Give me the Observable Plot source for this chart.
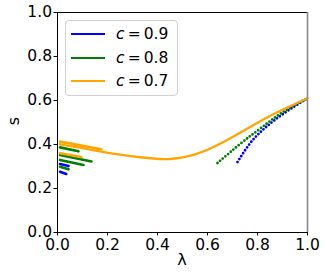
<!DOCTYPE html>
<html><head><meta charset="utf-8">
<script src="https://cdn.jsdelivr.net/npm/d3@7"></script>
<script src="https://cdn.jsdelivr.net/npm/@observablehq/plot@0.6"></script>
<style>
body{margin:0;background:#fff;}
#wrap{position:relative;width:327px;height:279px;font-family:"DejaVu Sans",sans-serif;color:#000;}
.legend{position:absolute;left:65px;top:20px;width:113px;height:76px;border:1px solid #d0d0d0;border-radius:4px;background:rgba(255,255,255,0.85);box-sizing:border-box;}
.row{position:absolute;left:0;height:20px;width:100%;}
.sw{position:absolute;left:5px;width:34px;height:2px;top:9px;}
.lt{position:absolute;left:50px;top:0;font-size:15.5px;line-height:20px;white-space:nowrap;}
.lt i{font-style:italic;}
.ylab{position:absolute;left:14px;top:121px;font-size:16px;line-height:1;transform:translate(-50%,-50%) rotate(-90deg);}
.xlab{position:absolute;left:182px;top:252px;font-size:16px;line-height:1;transform:translateX(-50%);}
</style></head>
<body><div id="wrap"></div>
<script>
const labels = ["c = 0.9", "c = 0.8", "c = 0.7"];
const colors = ["#0000ff", "#008000", "#ffa500"];
const xTicks = [0, 0.2, 0.4, 0.6, 0.8, 1.0];
const yTicks = [0, 0.2, 0.4, 0.6, 0.8, 1.0];

// c = 0.9 (blue)
const c09Lambda = [0.01, 0.044, 0.01, 0.035, 0.72, 0.77, 0.82, 0.87, 0.93, 1.0];
const c09S      = [0.311, 0.302, 0.276, 0.266, 0.32, 0.405, 0.465, 0.512, 0.56, 0.61];
const c09Seg    = ["a", "a", "b", "b", "r", "r", "r", "r", "r", "r"];

// c = 0.8 (green)
const c08Lambda = [0.01, 0.084, 0.01, 0.136, 0.01, 0.104, 0.01, 0.044, 0.64, 0.69, 0.75, 0.82, 0.9, 1.0];
const c08S      = [0.387, 0.369, 0.352, 0.323, 0.33, 0.307, 0.299, 0.287, 0.316, 0.364, 0.42, 0.48, 0.546, 0.61];
const c08Seg    = ["a", "a", "b", "b", "c", "c", "d", "d", "r", "r", "r", "r", "r", "r"];

// c = 0.7 (orange)
const c07Lambda = [0.01, 0.175, 0.01, 0.095,
  0.01, 0.1, 0.175, 0.251, 0.331, 0.41, 0.45, 0.5, 0.55, 0.6, 0.65, 0.7, 0.77, 0.85, 0.93, 1.0];
const c07S      = [0.413, 0.378, 0.36, 0.343,
  0.401, 0.383, 0.368, 0.354, 0.342, 0.334, 0.334, 0.341, 0.355, 0.376, 0.403, 0.434, 0.48, 0.53, 0.574, 0.61];
const c07Seg    = ["a", "a", "b", "b",
  "m", "m", "m", "m", "m", "m", "m", "m", "m", "m", "m", "m", "m", "m", "m", "m"];

const series = [
  {label: labels[0], lam: c09Lambda, s: c09S, seg: c09Seg},
  {label: labels[1], lam: c08Lambda, s: c08S, seg: c08Seg},
  {label: labels[2], lam: c07Lambda, s: c07S, seg: c07Seg}
];

const marks = [];
for (const sr of series) {
  const rows = sr.lam.map((x, i) => ({series: sr.label, x, s: sr.s[i], seg: sr.seg[i]}));
  const short = rows.filter(d => d.seg !== "r" && d.seg !== "m");
  const main = rows.filter(d => d.seg === "m");
  const dotted = rows.filter(d => d.seg === "r");
  marks.push(Plot.line(short, {x: "x", y: "s", z: "seg", stroke: "series", strokeWidth: 2.6}));
  if (main.length) marks.push(Plot.line(main, {x: "x", y: "s", stroke: "series", strokeWidth: 2.3, curve: "natural"}));
  if (dotted.length) marks.push(Plot.line(dotted, {x: "x", y: "s", stroke: "series", strokeWidth: 2.8,
    strokeLinecap: "round", strokeDasharray: "0,3.5", curve: "natural"}));
}

const chart = Plot.plot({
  width: 327, height: 279,
  marginLeft: 57, marginRight: 20, marginTop: 12, marginBottom: 47,
  style: {fontFamily: "DejaVu Sans", fontSize: "15.5px", color: "#000", background: "transparent"},
  x: {domain: [0, 1]},
  y: {domain: [0, 1]},
  color: {domain: labels, range: colors},
  marks: [
    ...marks,
    Plot.ruleY([0, 1], {stroke: "#000", strokeWidth: 1}),
    Plot.ruleX([0], {stroke: "#000", strokeWidth: 1}),
    Plot.ruleX([1], {stroke: "#888", strokeWidth: 1.6}),
    Plot.axisX({ticks: xTicks, tickFormat: d3.format(".1f"), tickSize: 3.5, tickPadding: 3, label: null}),
    Plot.axisY({ticks: yTicks, tickFormat: d3.format(".1f"), tickSize: 3.5, tickPadding: 2, label: null})
  ]
});
const wrap = document.getElementById("wrap");
wrap.appendChild(chart);

const leg = document.createElement("div");
leg.className = "legend";
labels.forEach((l, i) => {
  const row = document.createElement("div");
  row.className = "row";
  row.style.top = (3 + i * 23.5) + "px";
  const sw = document.createElement("div");
  sw.className = "sw"; sw.style.background = colors[i];
  const t = document.createElement("div");
  t.className = "lt";
  const parts = l.split(" = ");
  t.innerHTML = "<i>" + parts[0] + "</i>\u2009=\u2009" + parts[1];
  row.appendChild(sw); row.appendChild(t);
  leg.appendChild(row);
});
wrap.appendChild(leg);

const yl = document.createElement("div"); yl.className = "ylab"; yl.textContent = "s"; wrap.appendChild(yl);
const xl = document.createElement("div"); xl.className = "xlab"; xl.textContent = "λ"; wrap.appendChild(xl);
chart.style.position = "absolute"; chart.style.left = "0"; chart.style.top = "0";
</script>
</body></html>
